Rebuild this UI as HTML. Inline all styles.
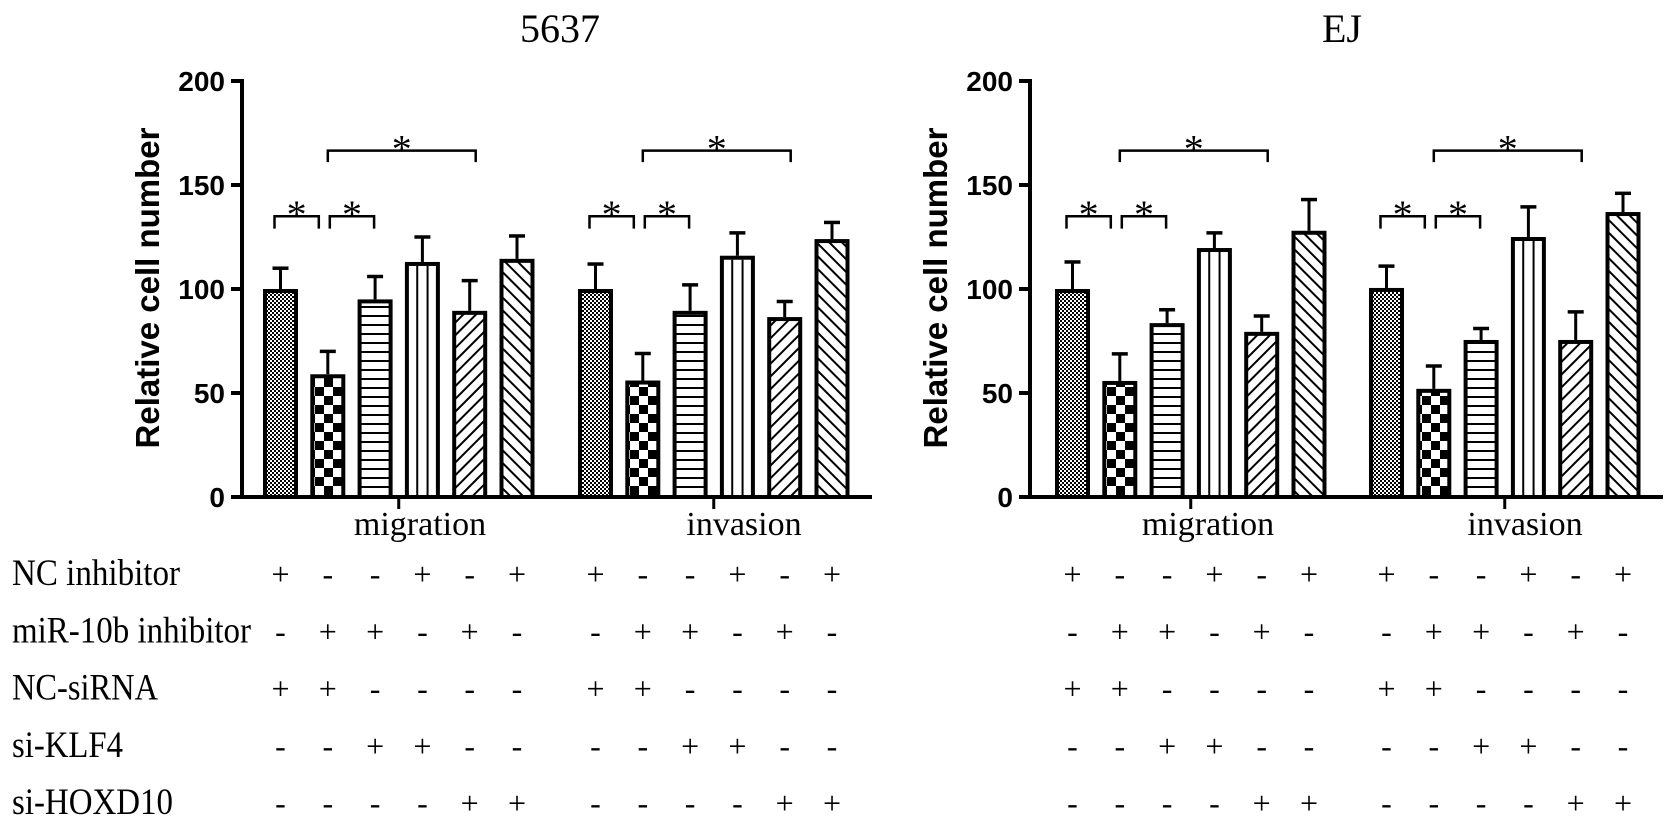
<!DOCTYPE html>
<html><head><meta charset="utf-8"><style>
html,body{margin:0;padding:0;background:#fff;}
svg{display:block;}
</style></head><body>
<svg id="fig" width="1677" height="829" viewBox="0 0 1677 829" xmlns="http://www.w3.org/2000/svg">
<defs>
<pattern id="pDots" width="4" height="4" patternUnits="userSpaceOnUse"><rect width="4" height="4" fill="#fff"/><rect x="0" y="0" width="2" height="2" fill="#000"/><rect x="2" y="2" width="2" height="2" fill="#000"/></pattern>
<pattern id="pCheck" width="18" height="18" patternUnits="userSpaceOnUse"><rect width="18" height="18" fill="#fff"/><rect x="0" y="0" width="9" height="9" fill="#000"/><rect x="9" y="9" width="9" height="9" fill="#000"/></pattern>
<pattern id="pH" width="8" height="9" patternUnits="userSpaceOnUse"><rect width="8" height="9" fill="#fff"/><rect x="0" y="0" width="8" height="2" fill="#000"/></pattern>
<pattern id="pD1" width="9" height="9" patternUnits="userSpaceOnUse" patternTransform="rotate(45)"><rect width="9" height="9" fill="#fff"/><rect x="0" y="0" width="2" height="9" fill="#000"/></pattern>
<pattern id="pD2" width="9" height="9" patternUnits="userSpaceOnUse" patternTransform="rotate(-45)"><rect width="9" height="9" fill="#fff"/><rect x="0" y="0" width="2" height="9" fill="#000"/></pattern>
</defs>
<g id="root"></g>
</svg>
<script>
// ---- data ----
const groups = ["migration", "invasion"];
const yTicks = [0, 50, 100, 150, 200];
const means5637 = [[100, 59, 95, 113, 89.5, 114.5], [100, 56, 89.5, 116, 86.5, 124]];
const errTop5637 = [[110, 70, 106, 125, 104, 125.5], [112, 69, 102, 127, 94, 132]];
const meansEJ = [[100, 55.8, 83.6, 119.7, 79.4, 128], [100.5, 52, 75.5, 125, 75.5, 137]];
const errTopEJ = [[113, 68.8, 90, 127, 87, 143], [111, 63, 81, 139.5, 89, 146]];
const rowLabels = ["NC inhibitor", "miR-10b inhibitor", "NC-siRNA", "si-KLF4", "si-HOXD10"];
const rowSigns = [
  ["+","-","-","+","-","+"],
  ["-","+","+","-","+","-"],
  ["+","+","-","-","-","-"],
  ["-","-","+","+","-","-"],
  ["-","-","-","-","+","+"]
];
// ---- layout ----
const NS = "http://www.w3.org/2000/svg";
const root = document.getElementById("root");
const y0 = 497, yScale = 2.08;
function yPix(v){ return y0 - v * yScale; }
const barW = 35, pitch = 47.3;
const fills = ["url(#pDots)","url(#pCheck)","url(#pH)","#fff","url(#pD1)","url(#pD2)"];
function el(tag, attrs, parent){
  const e = document.createElementNS(NS, tag);
  for (const k in attrs) e.setAttribute(k, attrs[k]);
  (parent || root).appendChild(e);
  return e;
}
const panels = [
  {title:"5637", axisX:242, axisEnd:872, starts:[263,578], means:means5637, errs:errTop5637, labelCx:[420,744], titleX:560, ylabX:147},
  {title:"EJ", axisX:1030, axisEnd:1663, starts:[1055,1369], means:meansEJ, errs:errTopEJ, labelCx:[1208,1525], titleX:1342, ylabX:935}
];
panels.forEach((p, pi) => {
  const g = el("g", {});
  
  
  const t = el("text", {x:p.titleX, y:42, "text-anchor":"middle", "font-family":"Liberation Serif, serif", "font-size":"40"}, g);
  t.textContent = p.title;
  
  
  const yl = el("text", {x:0, y:0, "text-anchor":"middle", "font-family":"Liberation Sans, sans-serif", "font-weight":"bold", "font-size":"33", transform:"translate(" + (p.ylabX + 12) + ",288) rotate(-90)"}, g);
  yl.textContent = "Relative cell number";
  
  
  const ax = el("line", {x1:p.axisX, y1:yPix(200)-2, x2:p.axisX, y2:y0+2, stroke:"#000", "stroke-width":4}, g);
  
  
  const xa = el("line", {x1:p.axisX-2, y1:y0, x2:p.axisEnd, y2:y0, stroke:"#000", "stroke-width":4}, g);
  
  
  yTicks.forEach(v => {
    const tk = el("line", {x1:p.axisX-11, y1:yPix(v), x2:p.axisX, y2:yPix(v), stroke:"#000", "stroke-width":4}, g);
    
    
    const tl = el("text", {x:p.axisX-17, y:yPix(v)+10, "text-anchor":"end", "font-family":"Liberation Sans, sans-serif", "font-weight":"bold", "font-size":"28"}, g);
    tl.textContent = v;
    
    
  });
  groups.forEach((gn, gi) => {
    const start = p.starts[gi];
    const cx = i => start + barW/2 + i*pitch;
    const gx = (cx(2) + cx(3)) / 2;
    const gt = el("line", {x1:gx, y1:y0, x2:gx, y2:y0+12, stroke:"#000", "stroke-width":3}, g);
    
    
    const gl = el("text", {x:p.labelCx[gi], y:535, "text-anchor":"middle", "font-family":"Liberation Serif, serif", "font-size":"34"}, g);
    gl.textContent = gn;
    
    
    p.means[gi].forEach((v, i) => {
      const x = cx(i) - barW/2;
      const et = yPix(p.errs[gi][i]);
      const es = el("line", {x1:cx(i), y1:et, x2:cx(i), y2:yPix(v), stroke:"#000", "stroke-width":3}, g);
      
      
      const ec = el("line", {x1:cx(i)-8, y1:et, x2:cx(i)+8, y2:et, stroke:"#000", "stroke-width":3.5}, g);
      
      
      const r = el("rect", {x:x+2, y:yPix(v)+2, width:barW-4, height:y0-yPix(v)-2, fill:fills[i], stroke:"#000", "stroke-width":4}, g);
      
      
      if (i === 3) {
        [1,2].forEach(k => {
          const vl = el("line", {x1:x+2+k*(barW-4)/3, y1:yPix(v)+4, x2:x+2+k*(barW-4)/3, y2:y0, stroke:"#000", "stroke-width":2}, g);
          
          
        });
      }
    });
    const brackets = [[cx(0)-6, cx(1)-9, 135, 129], [cx(1)+2, cx(2)-1, 135, 129], [cx(1), cx(4)+6, 166.5, 161]];
    brackets.forEach(b => {
      const yt = yPix(b[2]), yb = yPix(b[3]);
      const br = el("path", {d:"M" + b[0] + " " + yb + " V" + yt + " H" + b[1] + " V" + yb, fill:"none", stroke:"#000", "stroke-width":2.5}, g);
      
      
      const st = el("text", {x:(b[0]+b[1])/2, y:yt + 12, "text-anchor":"middle", "font-family":"Liberation Serif, serif", "font-size":"40"}, g);
      st.textContent = "*";
      
      
    });
    rowSigns.forEach((row, ri) => {
      row.forEach((s, i) => {
        const tx = el("text", {x:cx(i), y:585 + ri*57.3, "text-anchor":"middle", "font-family":"Liberation Serif, serif", "font-size":"32"}, g);
        tx.textContent = s;
        
        
      });
    });
  });
});
const labelW = [168, 239, 146, 111, 161];
rowLabels.forEach((lb, ri) => {
  const t = el("text", {x:12, y:585 + ri*57.3, "font-family":"Liberation Serif, serif", "font-size":"37", textLength:labelW[ri], lengthAdjust:"spacingAndGlyphs"});
  t.textContent = lb;
  
  
});
</script>
</body></html>
